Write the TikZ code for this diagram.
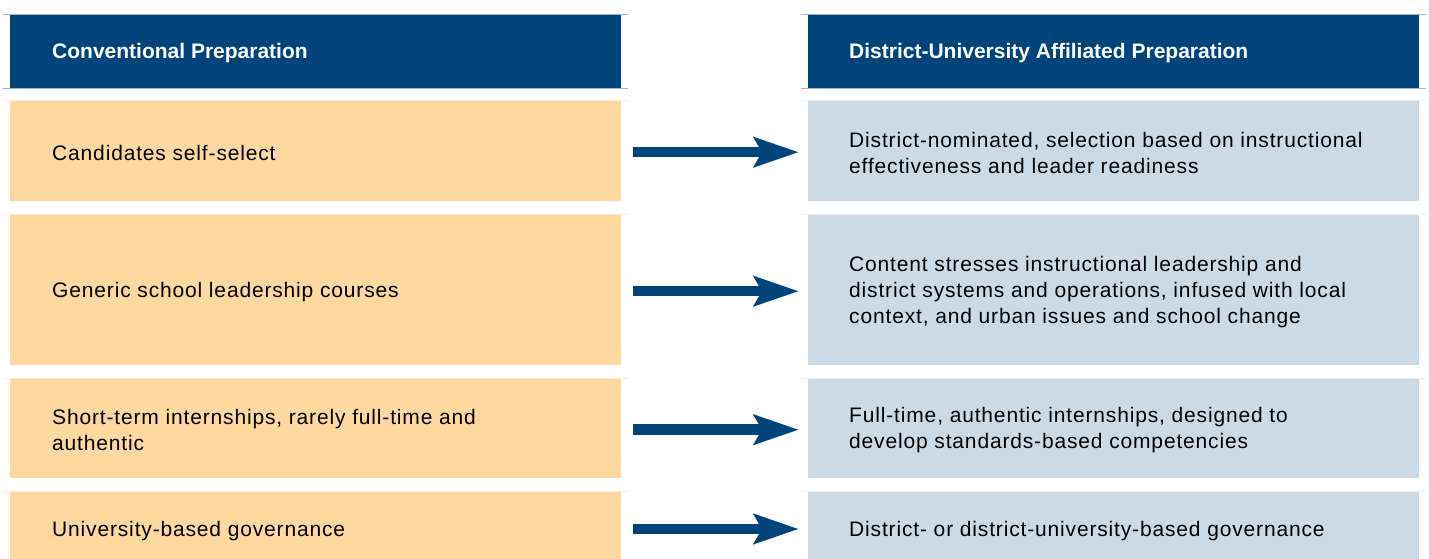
\documentclass[tikz,border=0pt]{standalone}
\usepackage{fontspec}
\setmainfont{Liberation Sans}
\newfontfamily\bodyfont[LetterSpace=4]{Liberation Sans}
\newfontfamily\headfont{Liberation Sans}
\usetikzlibrary{arrows.meta,calc}
\definecolor{navy}{RGB}{0,68,124}
\definecolor{peach}{RGB}{253,217,160}
\definecolor{pale}{RGB}{204,218,229}
\definecolor{rulec}{RGB}{160,184,206}
\definecolor{peachrule}{RGB}{252,236,214}
\definecolor{palerule}{RGB}{230,237,243}
\tikzset{
  box/.style={rectangle, inner sep=0pt, minimum width=611pt, minimum height=#1, anchor=north west},
  lbox/.style={box=#1, fill=peach},
  rbox/.style={box=#1, fill=pale},
  hbox/.style={box=73pt, fill=navy},
  txt/.style={anchor=west, inner sep=0pt, align=left, text=black,
    font=\bodyfont\fontsize{21}{26}\selectfont},
  htxt/.style={anchor=west, inner sep=0pt, align=left, text=white,
    font=\headfont\bfseries\fontsize{21}{26}\selectfont},
  arr/.style={draw=navy, line width=10.5pt,
    -{Stealth[length=45pt,width=31pt,inset=9pt,line width=0.01pt]}},
  hrule/.style={draw=rulec, line width=0.8pt},
  prule/.style={draw=peachrule, line width=0.8pt},
  brule/.style={draw=palerule, line width=0.8pt}
}
\begin{document}
\begin{tikzpicture}[x=1pt,y=-1pt]
\useasboundingbox (0,0) rectangle (1429,559);
\clip (0,0) rectangle (1429,559);
% headers
\node[hbox] (HL) at (10,15) {};
\node[hbox] (HR) at (808,15) {};
% rows
\node[lbox=100pt] (L1) at (10,101) {};
\node[rbox=100pt] (R1) at (808,101) {};
\node[lbox=150pt] (L2) at (10,215) {};
\node[rbox=150pt] (R2) at (808,215) {};
\node[lbox=99pt] (L3) at (10,379) {};
\node[rbox=99pt] (R3) at (808,379) {};
\node[lbox=74pt] (L4) at (10,492) {};
\node[rbox=74pt] (R4) at (808,492) {};
% texts
\node[htxt] (HLt) at ($(HL.west)+(42,1.5)$) {Conventional Preparation};
\node[htxt] (HRt) at ($(HR.west)+(41,1.5)$) {District-University Affiliated Preparation};
\node[txt] (L1t) at ($(L1.west)+(42,1.5)$) {Candidates self-select};
\node[txt] (R1t) at ($(R1.west)+(41,1.5)$) {District-nominated, selection based on instructional\\effectiveness and leader readiness};
\node[txt] (L2t) at ($(L2.west)+(42,1.5)$) {Generic school leadership courses};
\node[txt] (R2t) at ($(R2.west)+(41,1.5)$) {Content stresses instructional leadership and\\district systems and operations, infused with local\\context, and urban issues and school change};
\node[txt] (L3t) at ($(L3.west)+(42,1.5)$) {Short-term internships, rarely full-time and\\authentic};
\node[txt] (R3t) at ($(R3.west)+(41,1.5)$) {Full-time, authentic internships, designed to\\develop standards-based competencies};
\node[txt] (L4t) at ($(L4.north west)+(42,39)$) {University-based governance};
\node[txt] (R4t) at ($(R4.north west)+(41,39)$) {District- or district-university-based governance};
% rules
\foreach \n in {HL,HR}{
  \draw[hrule] ($(\n.north west)+(-7,-0.4)$) -- ($(\n.north east)+(7,-0.4)$);
  \draw[hrule] ($(\n.south west)+(-7,0)$) -- ($(\n.south east)+(7,0)$);
}
\foreach \n in {L1,L2,L3,L4}{
  \draw[prule] ($(\n.north west)+(-7,-0.6)$) -- ($(\n.north east)+(7,-0.6)$);
}
\foreach \n in {R1,R2,R3,R4}{
  \draw[brule] ($(\n.north west)+(-7,-0.6)$) -- ($(\n.north east)+(7,-0.6)$);
}
% arrows
\foreach \i in {1,2,3}{
  \draw[arr] ($(L\i.east)+(12,1)$) -- ($(R\i.west)+(-10,1)$);
}
\coordinate (a4s) at ($(L4.north east)+(12,37)$);
\coordinate (a4e) at ($(R4.north west)+(-10,37)$);
\draw[arr] (a4s) -- (a4e);
\end{tikzpicture}
\end{document}
